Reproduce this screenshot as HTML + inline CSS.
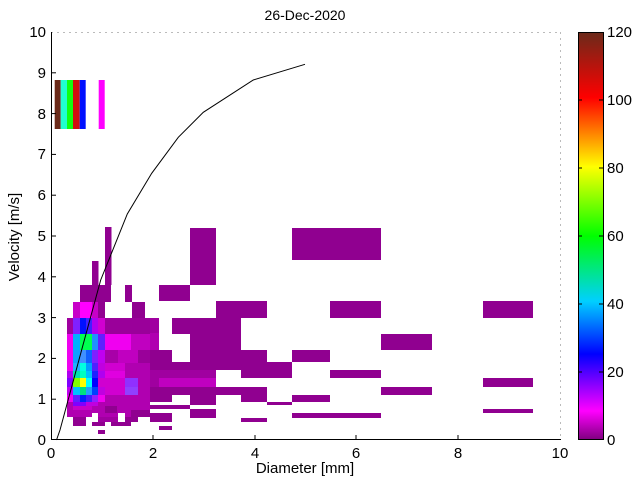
<!DOCTYPE html>
<html><head><meta charset="utf-8"><style>
html,body{margin:0;padding:0;background:#fff;}
svg{display:block;font-family:"Liberation Sans",sans-serif;}
</style></head><body>
<svg width="640" height="480" viewBox="0 0 640 480" xmlns="http://www.w3.org/2000/svg">
<defs>
<linearGradient id="cb" x1="0" y1="1" x2="0" y2="0">
<stop offset="0" stop-color="#800080"/>
<stop offset="0.07" stop-color="#ff00ff"/>
<stop offset="0.21" stop-color="#0000ff"/>
<stop offset="0.34" stop-color="#00d0ff"/>
<stop offset="0.5" stop-color="#00ff00"/>
<stop offset="0.67" stop-color="#ffff00"/>
<stop offset="0.84" stop-color="#ff0000"/>
<stop offset="1" stop-color="#6b2a1a"/>
</linearGradient>
</defs>
<rect width="640" height="480" fill="#fff"/>
<text x="305" y="20" font-size="14" text-anchor="middle">26-Dec-2020</text>

<rect x="54.7" y="80" width="6" height="49" fill="#6b2a1a"/>
<rect x="60.7" y="80" width="6.3" height="49" fill="#20ffd0"/>
<rect x="67" y="80" width="6" height="49" fill="#10ff10"/>
<rect x="73" y="80" width="6.7" height="49" fill="#d01010"/>
<rect x="79.7" y="80" width="6" height="49" fill="#0010ff"/>
<rect x="98.7" y="80" width="6" height="49" fill="#ff00ff"/>

<g fill="#900090">
<rect x="105" y="227" width="6.5" height="58"/>
<rect x="92" y="261" width="6.5" height="41"/>
<rect x="80" y="285" width="6.5" height="17"/>
<rect x="190" y="228" width="26" height="57"/>
<rect x="292" y="228" width="89" height="32"/>
<rect x="159" y="285" width="31" height="16"/>
<rect x="132" y="302" width="13" height="16"/>
<rect x="216" y="301" width="51" height="17"/>
<rect x="330" y="301" width="51" height="17"/>
<rect x="483" y="301" width="50" height="17"/>
<rect x="150" y="318" width="9" height="16" fill="#a000a0"/>
<rect x="172" y="318" width="69" height="16"/>
<rect x="190" y="333" width="51" height="17"/>
<rect x="150" y="333" width="9" height="17" fill="#b000b0"/>
<rect x="381" y="334" width="51" height="16"/>
<rect x="150" y="350" width="22" height="12"/>
<rect x="190" y="350" width="77" height="12"/>
<rect x="292" y="350" width="38" height="12"/>
<rect x="150" y="362" width="142" height="8"/>
<rect x="150" y="370" width="66" height="17" fill="#a000a0"/>
<rect x="159" y="378" width="57" height="9" fill="#c000c0"/>
<rect x="241" y="370" width="51" height="8"/>
<rect x="330" y="370" width="51" height="8"/>
<rect x="483" y="378" width="50" height="9"/>
<rect x="150" y="387" width="117" height="8"/>
<rect x="381" y="387" width="51" height="8"/>
<rect x="150" y="395" width="22" height="7"/>
<rect x="190" y="395" width="26" height="10"/>
<rect x="241" y="395" width="26" height="7"/>
<rect x="267" y="402" width="25" height="3"/>
<rect x="292" y="395" width="38" height="7"/>
<rect x="150" y="405" width="40" height="4"/>
<rect x="190" y="409" width="26" height="9"/>
<rect x="292" y="413" width="89" height="5"/>
<rect x="483" y="409" width="50" height="4"/>
<rect x="241" y="418" width="26" height="4"/>
<rect x="150" y="413" width="22" height="9"/>
<rect x="159" y="426" width="13" height="4"/>
<rect x="98" y="430" width="7" height="4"/>
</g>

<g shape-rendering="crispEdges">
<rect x="86" y="285" width="25" height="17" fill="#900090"/>
<rect x="125" y="285" width="7" height="17" fill="#900090"/>
<rect x="73" y="302" width="7" height="16" fill="#c800c8"/>
<rect x="80" y="302" width="12" height="16" fill="#ff00ff"/>
<rect x="92" y="302" width="6" height="16" fill="#c800c8"/>
<rect x="98" y="302" width="7" height="16" fill="#900090"/>
<rect x="67" y="318" width="6" height="16" fill="#a000a0"/>
<rect x="73" y="318" width="7" height="16" fill="#8020ff"/>
<rect x="80" y="318" width="6" height="16" fill="#0010ff"/>
<rect x="86" y="318" width="6" height="16" fill="#4020ff"/>
<rect x="92" y="318" width="6" height="16" fill="#b000f0"/>
<rect x="98" y="318" width="7" height="16" fill="#d000d0"/>
<rect x="105" y="318" width="45" height="16" fill="#9a009a"/>
<rect x="67" y="334" width="6" height="16" fill="#f000f0"/>
<rect x="73" y="334" width="7" height="16" fill="#00b0ff"/>
<rect x="80" y="334" width="12" height="16" fill="#00ff50"/>
<rect x="92" y="334" width="6" height="16" fill="#2090ff"/>
<rect x="98" y="334" width="7" height="16" fill="#6020ff"/>
<rect x="105" y="334" width="26" height="16" fill="#f000f0"/>
<rect x="131" y="334" width="19" height="16" fill="#c000c0"/>
<rect x="67" y="350" width="6" height="13" fill="#f000f0"/>
<rect x="73" y="350" width="7" height="13" fill="#10a0ff"/>
<rect x="80" y="350" width="6" height="13" fill="#4090ff"/>
<rect x="86" y="350" width="6" height="13" fill="#1060ff"/>
<rect x="92" y="350" width="6" height="13" fill="#8020ff"/>
<rect x="98" y="350" width="7" height="13" fill="#c000f0"/>
<rect x="105" y="350" width="20" height="13" fill="#a800a8"/>
<rect x="118" y="350" width="20" height="13" fill="#c000c0"/>
<rect x="138" y="350" width="12" height="13" fill="#9a009a"/>
<rect x="67" y="363" width="6" height="8" fill="#f000f0"/>
<rect x="73" y="363" width="7" height="8" fill="#20b0ff"/>
<rect x="80" y="363" width="6" height="8" fill="#00ffe0"/>
<rect x="86" y="363" width="6" height="8" fill="#00a0ff"/>
<rect x="92" y="363" width="6" height="8" fill="#5020ff"/>
<rect x="98" y="363" width="7" height="8" fill="#c000e0"/>
<rect x="105" y="363" width="20" height="8" fill="#d000d0"/>
<rect x="125" y="363" width="25" height="8" fill="#b000b0"/>
<rect x="67" y="371" width="6" height="7" fill="#b000f0"/>
<rect x="73" y="371" width="7" height="7" fill="#00e0b0"/>
<rect x="80" y="371" width="6" height="7" fill="#00ffc0"/>
<rect x="86" y="371" width="6" height="7" fill="#00c0ff"/>
<rect x="92" y="371" width="6" height="7" fill="#2020ff"/>
<rect x="98" y="371" width="7" height="7" fill="#b000f0"/>
<rect x="105" y="371" width="20" height="7" fill="#e000e0"/>
<rect x="125" y="371" width="25" height="7" fill="#b000b0"/>
<rect x="67" y="378" width="6" height="9" fill="#8000ff"/>
<rect x="73" y="378" width="7" height="9" fill="#80ff00"/>
<rect x="80" y="378" width="6" height="9" fill="#ffff00"/>
<rect x="86" y="378" width="6" height="9" fill="#00ffff"/>
<rect x="92" y="378" width="6" height="9" fill="#0000ff"/>
<rect x="98" y="378" width="7" height="9" fill="#d000d0"/>
<rect x="105" y="378" width="20" height="9" fill="#d000d0"/>
<rect x="125" y="378" width="13" height="9" fill="#9030ff"/>
<rect x="138" y="378" width="12" height="9" fill="#b000b0"/>
<rect x="67" y="387" width="6" height="8" fill="#c000f0"/>
<rect x="73" y="387" width="7" height="8" fill="#00c0ff"/>
<rect x="80" y="387" width="6" height="8" fill="#00e080"/>
<rect x="86" y="387" width="6" height="8" fill="#20a0ff"/>
<rect x="92" y="387" width="6" height="8" fill="#0040ff"/>
<rect x="98" y="387" width="7" height="8" fill="#c000e0"/>
<rect x="105" y="387" width="20" height="8" fill="#d000d0"/>
<rect x="125" y="387" width="13" height="8" fill="#9040ff"/>
<rect x="138" y="387" width="12" height="8" fill="#b000b0"/>
<rect x="67" y="395" width="6" height="7" fill="#f000f0"/>
<rect x="73" y="395" width="7" height="7" fill="#6020ff"/>
<rect x="80" y="395" width="6" height="7" fill="#0020ff"/>
<rect x="86" y="395" width="6" height="7" fill="#4020ff"/>
<rect x="92" y="395" width="6" height="7" fill="#9020ff"/>
<rect x="98" y="395" width="7" height="7" fill="#f000f0"/>
<rect x="105" y="395" width="45" height="7" fill="#b000b0"/>
<rect x="67" y="402" width="83" height="15" fill="#b000b0"/>
<rect x="73" y="402" width="13" height="4" fill="#8000ff"/>
<rect x="86" y="402" width="12" height="4" fill="#c000e0"/>
<rect x="73" y="406" width="19" height="4" fill="#c800c8"/>
<rect x="105" y="406" width="12" height="7" fill="#900090"/>
<rect x="131" y="410" width="19" height="7" fill="#900090"/>
<rect x="92" y="413" width="6" height="4" fill="#ffffff"/>
<rect x="118" y="413" width="7" height="4" fill="#ffffff"/>
<rect x="73" y="417" width="13" height="5" fill="#900090"/>
<rect x="98" y="417" width="20" height="5" fill="#a000a0"/>
<rect x="125" y="417" width="13" height="5" fill="#900090"/>
<rect x="73" y="422" width="13" height="4" fill="#900090"/>
<rect x="92" y="422" width="13" height="4" fill="#900090"/>
<rect x="111" y="422" width="20" height="4" fill="#900090"/>
</g>

<polyline fill="none" stroke="#000" stroke-width="1" points="56.5,440 60,430 80,356 100.7,280 127.3,214 151.7,173.3 178.3,137.3 203.3,112.3 253.3,80 305,64.3"/>

<line x1="51" y1="32.5" x2="560" y2="32.5" stroke="#bbb" stroke-dasharray="2,4"/>
<line x1="560.5" y1="32" x2="560.5" y2="440" stroke="#bbb" stroke-dasharray="2,4"/>
<line x1="51.5" y1="32" x2="51.5" y2="440" stroke="#000"/>
<line x1="51" y1="439.5" x2="561" y2="439.5" stroke="#000"/>
<g stroke="#000">
<line x1="153" y1="440" x2="153" y2="435"/>
<line x1="255" y1="440" x2="255" y2="435"/>
<line x1="356" y1="440" x2="356" y2="435"/>
<line x1="458" y1="440" x2="458" y2="435"/>
<line x1="51" y1="399.2" x2="56" y2="399.2"/>
<line x1="51" y1="358.4" x2="56" y2="358.4"/>
<line x1="51" y1="317.6" x2="56" y2="317.6"/>
<line x1="51" y1="276.8" x2="56" y2="276.8"/>
<line x1="51" y1="236" x2="56" y2="236"/>
<line x1="51" y1="195.2" x2="56" y2="195.2"/>
<line x1="51" y1="154.4" x2="56" y2="154.4"/>
<line x1="51" y1="113.6" x2="56" y2="113.6"/>
<line x1="51" y1="72.8" x2="56" y2="72.8"/>
</g>
<g font-size="15" text-anchor="middle">
<text x="51" y="458">0</text><text x="153" y="458">2</text><text x="255" y="458">4</text>
<text x="356" y="458">6</text><text x="458" y="458">8</text><text x="560" y="458">10</text>
</g>
<g font-size="15" text-anchor="end">
<text x="46" y="445">0</text><text x="46" y="404">1</text><text x="46" y="363">2</text>
<text x="46" y="323">3</text><text x="46" y="282">4</text><text x="46" y="241">5</text>
<text x="46" y="200">6</text><text x="46" y="159">7</text><text x="46" y="119">8</text>
<text x="46" y="78">9</text><text x="46" y="37">10</text>
</g>
<text x="305" y="473" font-size="15" text-anchor="middle">Diameter [mm]</text>
<text transform="translate(19,237) rotate(-90)" font-size="15" text-anchor="middle">Velocity [m/s]</text>

<rect x="578.5" y="32.5" width="25" height="407" fill="url(#cb)" stroke="#000"/>
<g stroke="#000">
<line x1="578" y1="100" x2="582" y2="100"/><line x1="599" y1="100" x2="603" y2="100"/>
<line x1="578" y1="168" x2="582" y2="168"/><line x1="599" y1="168" x2="603" y2="168"/>
<line x1="578" y1="236" x2="582" y2="236"/><line x1="599" y1="236" x2="603" y2="236"/>
<line x1="578" y1="304" x2="582" y2="304"/><line x1="599" y1="304" x2="603" y2="304"/>
<line x1="578" y1="372" x2="582" y2="372"/><line x1="599" y1="372" x2="603" y2="372"/>
</g>
<g font-size="15">
<text x="607" y="445">0</text><text x="607" y="377">20</text><text x="607" y="309">40</text>
<text x="607" y="241">60</text><text x="607" y="173">80</text><text x="607" y="105">100</text>
<text x="607" y="37">120</text>
</g>
</svg>
</body></html>
